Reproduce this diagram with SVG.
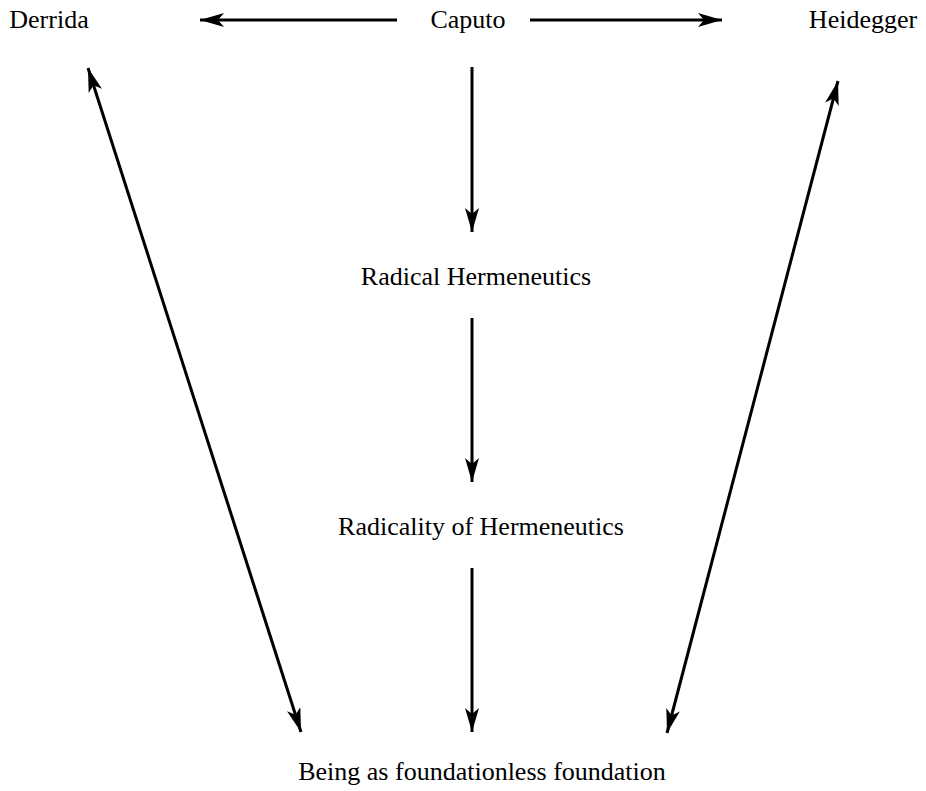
<svg xmlns="http://www.w3.org/2000/svg" width="926" height="791" viewBox="0 0 926 791">
<defs>
<marker id="ah" viewBox="0 0 24 14" refX="24" refY="7" markerWidth="24" markerHeight="14" markerUnits="userSpaceOnUse" orient="auto-start-reverse">
<path d="M0,0 L24,7 L0,14 L6,7 Z" fill="#000"/>
</marker>
<style>
text{font-family:"Liberation Serif","Times New Roman",serif;font-size:26px;fill:#000;text-anchor:middle}
.c{stroke:#000;stroke-width:3;fill:none}
</style>
</defs>
<rect width="926" height="791" fill="#fff"/>
<g id="derrida"><text x="49" y="28">Derrida</text></g>
<g id="caputo"><text x="468" y="28">Caputo</text></g>
<g id="heidegger"><text x="863" y="28">Heidegger</text></g>
<g id="radical-hermeneutics"><text x="476" y="285">Radical Hermeneutics</text></g>
<g id="radicality"><text x="481" y="535">Radicality of Hermeneutics</text></g>
<g id="being"><text x="482" y="780">Being as foundationless foundation</text></g>
<g id="connectors">
<line class="c" x1="397" y1="20" x2="200" y2="20" marker-end="url(#ah)"/>
<line class="c" x1="530" y1="20" x2="722" y2="20" marker-end="url(#ah)"/>
<line class="c" x1="472" y1="67" x2="472" y2="232" marker-end="url(#ah)"/>
<line class="c" x1="472" y1="318" x2="472" y2="482" marker-end="url(#ah)"/>
<line class="c" x1="472" y1="568" x2="472" y2="732" marker-end="url(#ah)"/>
<line class="c" x1="88" y1="68" x2="301" y2="732" marker-start="url(#ah)" marker-end="url(#ah)"/>
<line class="c" x1="838" y1="81" x2="667" y2="733" marker-start="url(#ah)" marker-end="url(#ah)"/>
</g>
</svg>
